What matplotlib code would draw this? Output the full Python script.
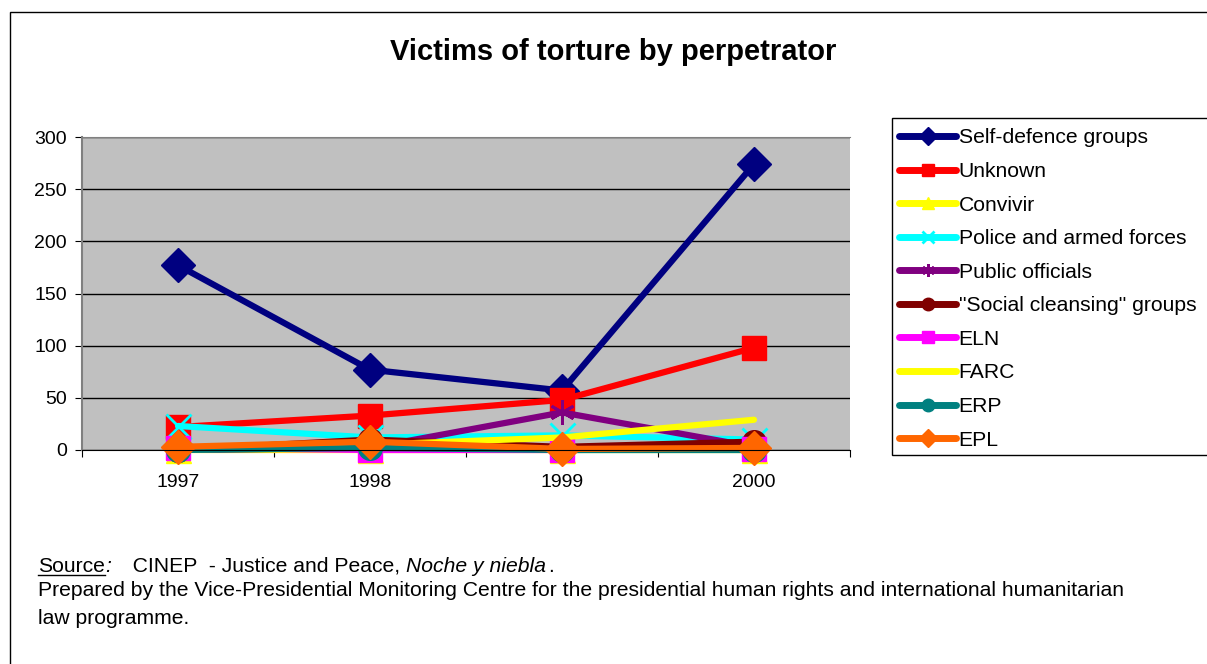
import matplotlib.pyplot as plt
from matplotlib.patches import Rectangle
from matplotlib.lines import Line2D

plt.rcParams['font.family'] = ['Liberation Sans', 'DejaVu Sans']

years = ["1997", "1998", "1999", "2000"]
self_defence = [177, 77, 57, 274]
unknown = [22, 33, 48, 98]
convivir = [0, 0, 0, 0]
police = [23, 12, 14, 10]
public_officials = [0, 2, 36, 3]
social_cleansing = [0, 10, 3, 8]
eln = [2, 0, 0, 1]
farc = [0, 5, 12, 29]
erp = [0, 2, 0, 0]
epl = [3, 8, 1, 2]

series = [
    ("Self-defence groups", self_defence, "#000080", "D"),
    ("Unknown", unknown, "#FF0000", "s"),
    ("Convivir", convivir, "#FFFF00", "^"),
    ("Police and armed forces", police, "#00FFFF", "x"),
    ("Public officials", public_officials, "#800080", (6, 2, 0)),
    ('"Social cleansing" groups', social_cleansing, "#800000", "o"),
    ("ELN", eln, "#FF00FF", "s"),
    ("FARC", farc, "#FFFF00", None),
    ("ERP", erp, "#008080", "o"),
    ("EPL", epl, "#FF6600", "D"),
]

fig = plt.figure(figsize=(12.07, 6.64), dpi=100)
W, H = 1207, 664

# outer border
fig.patches.append(Rectangle((10 / W, -0.01), 1.0, 1 - 12 / H + 0.01, transform=fig.transFigure,
                             fill=False, edgecolor="black", linewidth=1))

ax = fig.add_axes([82 / W, 1 - 450 / H, (850 - 82) / W, (450 - 137) / H])
ax.set_facecolor("#C0C0C0")
x = list(range(len(years)))
handles = []
for name, vals, color, marker in series:
    ms = 17 if marker in ("D", "s", "o") else 18
    mew = 2 if marker in ("x", (6, 2, 0)) else 1
    h, = ax.plot(x, vals, color=color, linewidth=4.5, marker=marker, markersize=ms,
                 markeredgewidth=mew, markeredgecolor=color, solid_capstyle="round",
                 label=name, clip_on=False)
    handles.append(h)

ax.set_xlim(-0.5, 3.5)
ax.set_ylim(0, 300)
ax.set_yticks(range(0, 301, 50))
ax.yaxis.grid(True, color="black", linewidth=1)
ax.set_axisbelow(True)
ax.set_xticks([i - 0.5 for i in range(5)], minor=False)
ax.set_xticklabels([])
ax.set_xticks(x, minor=True)
ax.set_xticklabels(years, minor=True)
ax.tick_params(axis="x", which="minor", length=0, labelsize=14, pad=17)
ax.tick_params(axis="x", which="major", length=5, direction="out")
ax.tick_params(axis="y", length=5, direction="out", labelsize=14, pad=6)
for s in ["top", "right", "left"]:
    ax.spines[s].set_color("#808080")
ax.spines["left"].set_linewidth(1.5)
ax.spines["right"].set_visible(False)

fig.text(613 / W, 1 - 52 / H, "Victims of torture by perpetrator", ha="center", va="center",
         fontsize=21, fontweight="bold")

# legend box
fig.patches.append(Rectangle((892 / W, 1 - 455 / H), 0.5, (455 - 118) / H, transform=fig.transFigure,
                             fill=True, facecolor="white", edgecolor="black", linewidth=1))
leg = fig.legend(handles=handles, loc="upper left", bbox_to_anchor=(891 / W, 1 - 120 / H),
                 frameon=False, fontsize=15.2, handlelength=2.7, handletextpad=0.1,
                 labelspacing=0.69, borderaxespad=0)
for lh in leg.legend_handles:
    lh.set_markersize(9)
    lh.set_linewidth(5)

# footnote
fs = 15.2
fy = 1 - 566 / H
t1 = fig.text(38 / W, fy, "Source", fontsize=fs, va="center")
fig.canvas.draw()
r = fig.canvas.get_renderer()
bb = t1.get_window_extent(r)
fig.text(bb.x1 / W, fy, ":", fontsize=fs, va="center", style="italic")
fig.add_artist(Line2D([bb.x0 / W, bb.x1 / W], [(bb.y0 + 1) / H] * 2, color="black", linewidth=1))
t3 = fig.text(bb.x1 / W + 0.008, fy, "   CINEP  - Justice and Peace, ", fontsize=fs, va="center")
bb3 = t3.get_window_extent(r)
fig.text(bb3.x1 / W, fy, "Noche y niebla", fontsize=fs, va="center", style="italic")
t5 = fig.text(0, 0, "Noche y niebla", fontsize=fs, style="italic")
bb5 = t5.get_window_extent(r)
t5.remove()
fig.text((bb3.x1 + bb5.width + 3) / W, fy, ".", fontsize=fs, va="center")
fig.text(38 / W, 1 - 591 / H,
         "Prepared by the Vice-Presidential Monitoring Centre for the presidential human rights and international humanitarian",
         fontsize=fs, va="center")
fig.text(38 / W, 1 - 618 / H, "law programme.", fontsize=fs, va="center")

fig.savefig("out.png", dpi=100)
